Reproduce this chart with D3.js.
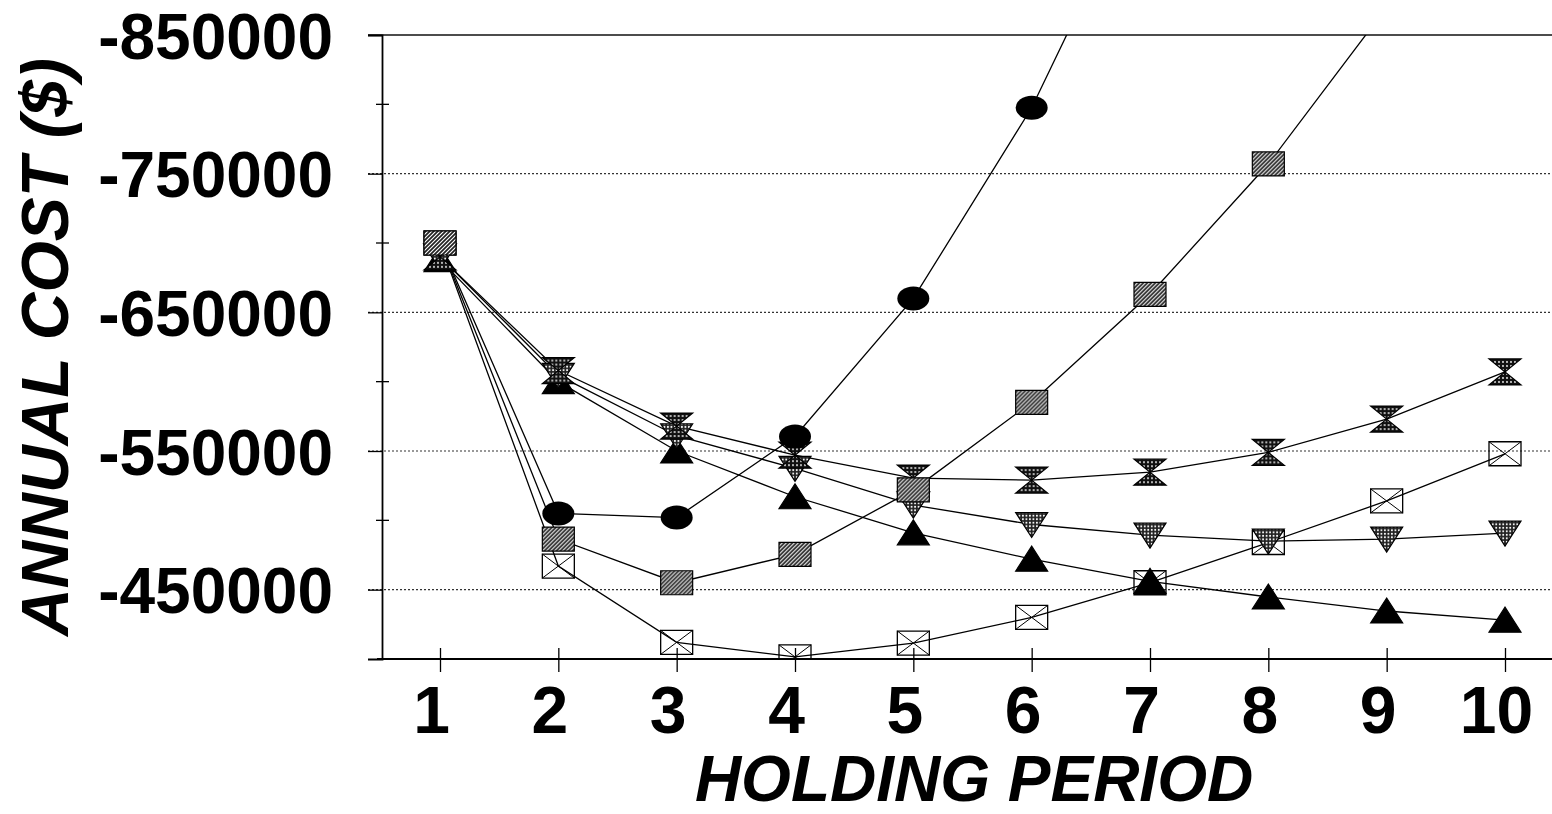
<!DOCTYPE html>
<html>
<head>
<meta charset="utf-8">
<script src="https://cdn.jsdelivr.net/npm/d3@7"></script>
<style>
  body { margin: 0; background: #fff; }
  svg { display: block; }
  text { font-family: "Liberation Sans", Arial, sans-serif; font-weight: bold; fill: #000; }
</style>
</head>
<body>
<div id="chart"></div>
<script>
// holding period on x, annual cost on y (axis runs upward to more negative)
var periods = [1, 2, 3, 4, 5, 6, 7, 8, 9, 10];

var circleCost    = [-700000, -505000, -502000, -560500, -660000, -797500, -975000];
var hatchedCost   = [-700000, -486500, -455000, -475500, -522000, -585000, -663000, -757000, -870000];
var crossedCost   = [-700000, -467000, -412000, -401500, -411500, -430000, -455000, -484000, -514000, -548000];
var hourglassCost = [-690000, -608000, -568000, -547000, -530500, -529000, -534700, -549000, -573000, -607000];
var triDownCost   = [-690000, -604500, -561000, -537500, -511000, -497000, -489300, -485000, -486500, -490800];
var triUpCost     = [-688000, -600000, -550000, -517000, -491000, -472000, -456000, -444700, -434600, -428000];

var yMajor = [-850000, -750000, -650000, -550000, -450000];
var yMinor = [-800000, -700000, -600000, -500000];

var width = 1552, height = 814;
var axisX = 382, plotTop = 35, plotBottom = 659, plotRight = 1552;

var x = d3.scaleLinear().domain([1, 10]).range([440, 1505]);
var y = d3.scaleLinear().domain([-400000, -850000]).range([plotBottom, plotTop]);

// plain hyphen instead of the unicode minus d3 uses
function fmt(d) { return (d < 0 ? "-" : "") + Math.abs(d); }

var svg = d3.select("#chart").append("svg")
  .attr("width", width)
  .attr("height", height);

var defs = svg.append("defs");

// fill patterns
var dots = defs.append("pattern").attr("id", "dots")
  .attr("width", 4).attr("height", 4).attr("patternUnits", "userSpaceOnUse");
dots.append("rect").attr("width", 4).attr("height", 4).attr("fill", "#111");
dots.append("circle").attr("cx", 2).attr("cy", 2).attr("r", 0.9).attr("fill", "#fff");

var dots2 = defs.append("pattern").attr("id", "dots2")
  .attr("width", 3.5).attr("height", 3.5).attr("patternUnits", "userSpaceOnUse");
dots2.append("rect").attr("width", 3.5).attr("height", 3.5).attr("fill", "#222");
dots2.append("circle").attr("cx", 1.75).attr("cy", 1.75).attr("r", 1.0).attr("fill", "#fff");

var hatch = defs.append("pattern").attr("id", "hatch")
  .attr("width", 4).attr("height", 4).attr("patternUnits", "userSpaceOnUse");
hatch.append("rect").attr("width", 4).attr("height", 4).attr("fill", "#222");
hatch.append("path").attr("d", "M-1,1 l2,-2 M0,4 l4,-4 M3,5 l2,-2")
  .attr("stroke", "#fff").attr("stroke-width", 1.1);

defs.append("clipPath").attr("id", "plotClip")
  .append("rect")
  .attr("x", axisX).attr("y", plotTop)
  .attr("width", plotRight - axisX).attr("height", plotBottom - plotTop);

// dotted gridlines
svg.append("g").selectAll("line")
  .data(yMajor.slice(1))
  .enter().append("line")
  .attr("x1", 368).attr("x2", plotRight)
  .attr("y1", function(d) { return y(d); })
  .attr("y2", function(d) { return y(d); })
  .attr("stroke", "#333")
  .attr("stroke-width", 1.2)
  .attr("stroke-dasharray", "2,2");

// top border
svg.append("line")
  .attr("x1", 368).attr("x2", plotRight)
  .attr("y1", y(-850000)).attr("y2", y(-850000))
  .attr("stroke", "#111").attr("stroke-width", 1.5);

var series = [
  { name: "crossed",   values: crossedCost,   shape: "box" },
  { name: "triUp",     values: triUpCost,     shape: "triUp" },
  { name: "triDown",   values: triDownCost,   shape: "triDown" },
  { name: "hourglass", values: hourglassCost, shape: "hourglass" },
  { name: "circle",    values: circleCost,    shape: "circle" },
  { name: "hatched",   values: hatchedCost,   shape: "square" }
];

var line = d3.line()
  .x(function(d, i) { return x(periods[i]); })
  .y(function(d) { return y(d); });

var plot = svg.append("g").attr("clip-path", "url(#plotClip)");

plot.append("g").selectAll("path")
  .data(series)
  .enter().append("path")
  .attr("d", function(s) { return line(s.values); })
  .attr("fill", "none")
  .attr("stroke", "#000")
  .attr("stroke-width", 1.3);

var shapes = {
  box: "M-16,-12H16V12H-16Z",
  square: "M-16,-12H16V12H-16Z",
  triUp: "M0,-13L16,12H-16Z",
  triDown: "M-16,-12H16L0,13Z",
  hourglass: "M-16,-13H16L-16,13H16Z"
};

series.forEach(function(s) {
  var g = plot.append("g").attr("class", "marks-" + s.name);
  var pts = g.selectAll("g")
    .data(s.values)
    .enter().append("g")
    .attr("transform", function(d, i) { return "translate(" + x(periods[i]) + "," + y(d) + ")"; });

  if (s.shape === "circle") {
    pts.append("ellipse").attr("rx", 16).attr("ry", 12).attr("fill", "#000");
  } else if (s.shape === "box") {
    pts.append("path").attr("d", shapes.box)
      .attr("fill", "none").attr("stroke", "#000").attr("stroke-width", 1.3);
    pts.append("path").attr("d", "M-16,-12L16,12M16,-12L-16,12")
      .attr("stroke", "#000").attr("stroke-width", 1);
  } else {
    var fill = s.shape === "square" ? "url(#hatch)"
      : s.shape === "triUp" ? "#000"
      : s.shape === "hourglass" ? "url(#dots)" : "url(#dots2)";
    pts.append("path").attr("d", shapes[s.shape])
      .attr("fill", fill).attr("stroke", "#000").attr("stroke-width", 1.2);
  }
});

// y axis
var yAxis = svg.append("g")
  .attr("transform", "translate(" + axisX + ",0)")
  .call(d3.axisLeft(y).tickValues(yMajor).tickSize(14).tickPadding(35)
    .tickFormat(fmt));
yAxis.select(".domain").attr("stroke", "#000").attr("stroke-width", 1.8);
yAxis.selectAll(".tick line").attr("stroke", "#000").attr("stroke-width", 1.3);
yAxis.selectAll(".tick text")
  .attr("dy", "0.36em")
  .style("font-size", "64px")
  .style("font-weight", "bold")
  .attr("fill", "#000");

svg.append("g").selectAll("line")
  .data(yMinor)
  .enter().append("line")
  .attr("x1", 376).attr("x2", 389)
  .attr("y1", function(d) { return y(d); })
  .attr("y2", function(d) { return y(d); })
  .attr("stroke", "#000").attr("stroke-width", 1.3);

// x axis
svg.append("line")
  .attr("x1", 377).attr("x2", plotRight)
  .attr("y1", plotBottom).attr("y2", plotBottom)
  .attr("stroke", "#000").attr("stroke-width", 1.8);

var xAxis = svg.append("g")
  .attr("transform", "translate(0," + plotBottom + ")")
  .call(d3.axisBottom(x).tickValues(periods).tickSize(13).tickPadding(14)
    .tickFormat(fmt));
xAxis.select(".domain").remove();
xAxis.selectAll(".tick line").attr("y1", -11).attr("stroke", "#000").attr("stroke-width", 1.3);
xAxis.selectAll(".tick text")
  .attr("dx", -9)
  .style("font-size", "66px")
  .style("font-weight", "bold")
  .attr("fill", "#000");

// axis titles
svg.append("text")
  .attr("transform", "translate(68,347) rotate(-90)")
  .attr("text-anchor", "middle")
  .style("font-size", "66px")
  .style("font-style", "italic")
  .text("ANNUAL COST ($)");

svg.append("text")
  .attr("x", 974).attr("y", 801)
  .attr("text-anchor", "middle")
  .style("font-size", "64px")
  .style("font-style", "italic")
  .text("HOLDING PERIOD");
</script>
</body>
</html>
